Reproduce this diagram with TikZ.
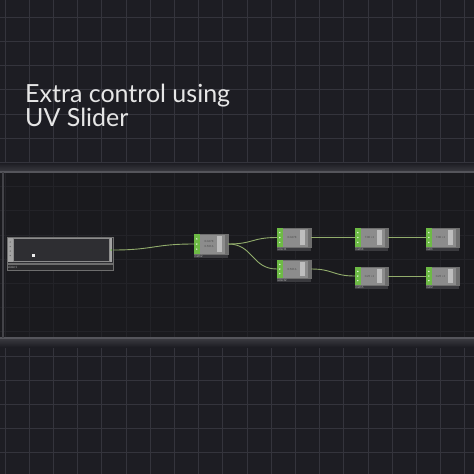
\documentclass[tikz,border=0pt]{standalone}
\usepackage{fontspec}
\setmainfont{Lato}
\definecolor{bg}{HTML}{1D1D23}
\definecolor{gridc}{HTML}{34343C}
\definecolor{bandc}{HTML}{18181C}
\definecolor{edgec}{HTML}{55555B}
\definecolor{glowc}{HTML}{3A3A40}
\definecolor{portgreen}{HTML}{6DBA45}
\definecolor{bodyc}{HTML}{8C8C8C}
\definecolor{valc}{HTML}{BEBEBE}
\definecolor{stripc}{HTML}{6E6E6E}
\definecolor{wirec}{HTML}{92AD6C}
\definecolor{barc}{HTML}{3A3A3E}
\definecolor{titlec}{HTML}{E6E6E6}
\tikzset{
  opbody/.style={fill=bodyc, draw=stripc, line width=0.4pt, inner sep=0pt},
  lbl/.style={text=gray!60, font=\fontsize{3}{3}\selectfont, inner sep=0.3pt},
  valtxt/.style={text=black!70, font=\fontsize{2.8}{3}\selectfont, inner sep=0pt},
  wire/.style={draw=wirec, line width=0.9pt},
  title/.style={text=titlec, font=\fontsize{25}{22}\selectfont, inner sep=0pt, align=left, anchor=north west},
}
\newcommand{\opnd}[8]{%
  \node[opbody, minimum width=#4, minimum height=#5] (#1) at (#2,#3) {};
  \fill[portgreen] (#1.north west) rectangle ([xshift=6pt]#1.south west);
  \foreach \k in {0.25,0.5,0.75} {\fill[white!85!portgreen] ($(#1.north west)!\k!(#1.south west)+(3,0)$) circle (0.8pt);}
  \fill[valc] ([xshift=-11pt,yshift=-2pt]#1.north east) rectangle ([xshift=-6pt,yshift=2pt]#1.south east);
  \fill[stripc] ([xshift=-3pt]#1.north east) rectangle (#1.south east);
  \fill[barc] ([yshift=-0.5pt]#1.south west) rectangle ([yshift=-4pt]#1.south east);
  \node[lbl, anchor=north west] at ([yshift=-0.5pt]#1.south west) {#6};
  \node[valtxt] at ([xshift=-2pt,yshift=#8]#1.center) {#7};
}
\usetikzlibrary{calc}
\begin{document}
\begin{tikzpicture}[x=1pt, y=-1pt]
\useasboundingbox (0,0) rectangle (474,474);
\fill[bg] (0,0) rectangle (474,474);
% grid
\foreach \i in {0,...,19} {\draw[gridc, line width=0.6pt] ({4.8+24.2*\i},0) -- ({4.8+24.2*\i},474);}
\foreach \i in {-1,0,...,19} {\draw[gridc, line width=0.6pt] (0,{17+24.2*\i}) -- (474,{17+24.2*\i});}
% band
\fill[bandc, opacity=0.6] (0,172) rectangle (474,338);
\shade[top color=bg, bottom color=glowc] (0,163) rectangle (474,171.5);
\shade[top color=glowc, bottom color=bg] (0,338.5) rectangle (474,347);
\draw[edgec, line width=1.4pt] (0,172) -- (474,172);
\draw[edgec, line width=1.4pt] (0,338) -- (474,338);
\draw[edgec!70!bandc, line width=1.4pt] (3,172) -- (3,338);
% title
\node[title] (t1) at (25,83.5) {Extra control using\\UV Slider};
% slider
\node[fill=barc!80!black, draw=stripc, line width=0.6pt, minimum width=106, minimum height=26, inner sep=0pt] (sl) at (60,250) {};
\fill[bodyc!80] ([xshift=1pt,yshift=-1pt]sl.north west) rectangle ([xshift=6pt,yshift=1pt]sl.south west);
\foreach \k in {0.2,0.37,0.54,0.71} {\fill[black!60] ($(sl.north west)!\k!(sl.south west)+(3.5,0)$) circle (0.7pt);}
\draw[bodyc, line width=1.4pt] ([xshift=7pt,yshift=-2pt]sl.north west) rectangle ([xshift=-4pt,yshift=2pt]sl.south east);
\fill[bodyc!80] ([xshift=-3pt,yshift=-1pt]sl.north east) rectangle ([xshift=-1pt,yshift=1pt]sl.south east);
\fill[portgreen] ([xshift=-2pt]sl.east) circle (0.9pt);
\fill[white!85!gray] (31.5,253.5) rectangle (35,257);
\fill[barc!70!black] ([yshift=-1pt]sl.south west) rectangle ([yshift=-7pt]sl.south east);
\draw[stripc, line width=0.4pt] ([yshift=-1pt]sl.south west) rectangle ([yshift=-7pt]sl.south east);
\node[lbl, anchor=west] at ([xshift=1pt,yshift=-4pt]sl.south west) {slider1};
% op nodes
\opnd{m2}{211}{244}{34}{20}{math2}{0.0678}{2.5pt}
\node[valtxt] at ([xshift=-2pt,yshift=-2.5pt]m2.center) {0.5016};
\opnd{s1}{294}{237.5}{34}{19}{select1}{0.0678}{0pt}
\opnd{s2}{294}{269}{34}{18}{select2}{0.5016}{0pt}
\opnd{m4}{371.5}{237.5}{33}{19}{math4}{7.00 +1}{0pt}
\opnd{m5}{371.5}{276}{33}{18}{math5}{0.25 +1}{0pt}
\opnd{n1}{442.5}{237.5}{33}{19}{null1}{7.00 +1}{0pt}
\opnd{n2}{442.5}{276}{33}{18}{null2}{0.25 +1}{0pt}
% wires
\draw[wire] (sl.east) .. controls +(40,0) and +(-40,0) .. (m2.west);
\draw[wire] (m2.east) .. controls +(25,0) and +(-25,0) .. (s1.west);
\draw[wire] (m2.east) .. controls +(25,0) and +(-25,0) .. (s2.west);
\draw[wire] (s1.east) -- (m4.west);
\draw[wire] (s2.east) .. controls +(22,0) and +(-22,0) .. (m5.west);
\draw[wire] (m4.east) -- (n1.west);
\draw[wire] (m5.east) -- (n2.west);
\end{tikzpicture}
\end{document}
